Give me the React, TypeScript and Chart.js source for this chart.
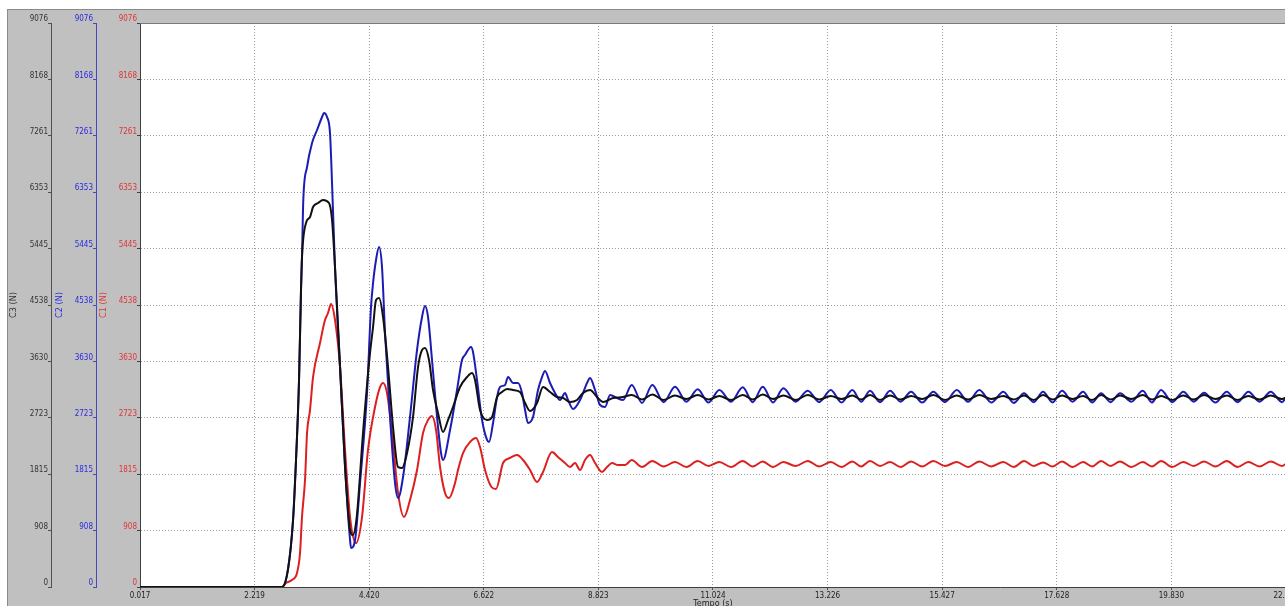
import React, { useEffect, useRef } from "react";
import { Chart, registerables } from "chart.js";

Chart.register(...registerables);

// ---- tick labels ----
const xTickLabels = ["0.017", "2.219", "4.420", "6.622", "8.823", "11.024", "13.226", "15.427", "17.628", "19.830", "22.032"];
const yTickLabels = ["0", "908", "1815", "2723", "3630", "4538", "5445", "6353", "7261", "8168", "9076"];
const xTickValues = xTickLabels.map(Number);
const yTickValues = yTickLabels.map(Number);

// ---- C3 (black) transient ----
const c3Time = [0.017, 2.745, 2.861, 2.957, 3.014, 3.072, 3.110, 3.129, 3.206, 3.283, 3.341, 3.437, 3.533, 3.648, 3.706, 3.763, 3.860, 3.956, 4.052, 4.103, 4.180, 4.301, 4.436, 4.494, 4.551, 4.609, 4.686, 4.782, 4.878, 4.974, 5.051, 5.147, 5.262, 5.358, 5.435, 5.492, 5.569, 5.646, 5.742, 5.838, 5.934, 6.030, 6.165, 6.299, 6.395, 6.453, 6.549, 6.684, 6.780, 6.876, 6.972, 7.068, 7.183, 7.317, 7.414, 7.510, 7.644, 7.759, 7.894, 8.028, 8.144, 8.278, 8.412, 8.528, 8.662, 8.797, 8.912, 9.104, 9.296];
const c3Force = [0, 0, 290, 1078, 2044, 3331, 4779, 5310, 5857, 5954, 6115, 6179, 6228, 6179, 5906, 5149, 3540, 1931, 917, 837, 1126, 2478, 3766, 4184, 4618, 4651, 4345, 3540, 2575, 1931, 1915, 2156, 2736, 3540, 3814, 3846, 3653, 3170, 2800, 2494, 2687, 2897, 3218, 3379, 3444, 3331, 2848, 2687, 2736, 3057, 3138, 3186, 3170, 3138, 2961, 2832, 2961, 3218, 3138, 3057, 3041, 2977, 3009, 3122, 3170, 3057, 2977, 3041, 3057];

// ---- C2 (blue) transient ----
const c2Time = [0.017, 2.745, 2.861, 2.957, 3.014, 3.072, 3.110, 3.129, 3.154, 3.226, 3.322, 3.418, 3.514, 3.552, 3.610, 3.667, 3.706, 3.763, 3.860, 3.956, 4.052, 4.071, 4.148, 4.244, 4.378, 4.455, 4.494, 4.551, 4.609, 4.666, 4.724, 4.820, 4.916, 4.974, 5.070, 5.204, 5.339, 5.435, 5.492, 5.550, 5.627, 5.723, 5.800, 5.838, 5.973, 6.107, 6.203, 6.261, 6.376, 6.414, 6.491, 6.588, 6.684, 6.722, 6.799, 6.876, 6.933, 7.030, 7.087, 7.183, 7.279, 7.356, 7.414, 7.471, 7.567, 7.663, 7.740, 7.798, 7.894, 7.990, 8.086, 8.182, 8.240, 8.336, 8.470, 8.605, 8.662, 8.759, 8.854, 8.951, 9.047, 9.181, 9.296];
const c2Force = [0, 0, 290, 1078, 2044, 3331, 4779, 5310, 6228, 6759, 7145, 7354, 7563, 7628, 7563, 7306, 6501, 5149, 3540, 1931, 756, 628, 756, 1674, 3122, 4506, 4892, 5262, 5471, 5149, 4087, 2736, 1674, 1432, 1770, 2736, 3814, 4345, 4522, 4345, 3653, 2736, 2156, 2044, 2526, 3170, 3653, 3733, 3862, 3782, 3331, 2687, 2366, 2333, 2639, 3057, 3218, 3251, 3379, 3283, 3283, 3122, 2848, 2639, 2736, 3170, 3379, 3476, 3283, 3122, 3009, 3122, 3009, 2864, 3009, 3283, 3363, 3170, 2929, 2897, 3090, 3041, 3009];

// ---- C1 (red) transient ----
const c1Time = [0.017, 2.745, 2.822, 2.937, 3.033, 3.091, 3.129, 3.187, 3.226, 3.283, 3.341, 3.475, 3.571, 3.629, 3.687, 3.763, 3.860, 3.956, 4.052, 4.167, 4.282, 4.397, 4.532, 4.628, 4.686, 4.762, 4.859, 4.974, 5.089, 5.204, 5.339, 5.454, 5.550, 5.627, 5.704, 5.781, 5.877, 5.953, 6.069, 6.126, 6.222, 6.357, 6.472, 6.549, 6.645, 6.769, 6.856, 6.991, 7.125, 7.260, 7.376, 7.510, 7.644, 7.759, 7.931, 8.047, 8.182, 8.278, 8.374, 8.470, 8.566, 8.662, 8.759, 8.893, 8.989, 9.085, 9.200, 9.335];
const c1Force = [0, 0, 64, 113, 225, 547, 1126, 1722, 2478, 2848, 3379, 3926, 4297, 4409, 4554, 4297, 3540, 2205, 1126, 708, 1126, 2205, 2897, 3218, 3283, 3122, 2478, 1513, 1126, 1400, 1883, 2478, 2687, 2752, 2526, 1931, 1513, 1432, 1674, 1883, 2156, 2333, 2398, 2253, 1883, 1609, 1577, 1995, 2076, 2124, 2044, 1883, 1690, 1851, 2172, 2092, 1995, 1931, 1995, 1883, 2044, 2124, 1995, 1851, 1931, 1995, 1963, 1963];

// ---- steady ripple (peaks / troughs) ----
const steadyPeakTime = [9.463, 9.859, 10.295, 10.731, 11.146, 11.596, 11.980, 12.376, 12.845, 13.286, 13.701, 14.041, 14.426, 14.829, 15.257, 15.707, 16.141, 16.602, 17.000, 17.365, 17.730, 18.134, 18.480, 18.844, 19.280, 19.632, 20.060, 20.458, 20.894, 21.309, 21.739];
const steadyTroughTime = [9.661, 10.077, 10.513, 10.939, 11.371, 11.788, 12.178, 12.611, 13.066, 13.494, 13.871, 14.234, 14.628, 15.043, 15.482, 15.924, 16.372, 16.801, 17.183, 17.548, 17.932, 18.307, 18.662, 19.062, 19.456, 19.846, 20.259, 20.676, 21.102, 21.524, 21.956];
const c2PeakForce = [3251, 3251, 3223, 3181, 3170, 3213, 3223, 3197, 3159, 3170, 3170, 3159, 3159, 3143, 3143, 3170, 3170, 3143, 3116, 3143, 3159, 3143, 3116, 3116, 3159, 3170, 3143, 3127, 3143, 3143, 3143];
const c2TroughForce = [2961, 2975, 2982, 2969, 2982, 2975, 2969, 2982, 2975, 2969, 2982, 2975, 2982, 2969, 2975, 2982, 2969, 2961, 2975, 2969, 2982, 2969, 2975, 2982, 2969, 2975, 2982, 2969, 2975, 2982, 2975];
const c3PeakForce = [3090, 3098, 3082, 3090, 3074, 3090, 3098, 3082, 3090, 3074, 3082, 3090, 3082, 3074, 3090, 3082, 3090, 3074, 3082, 3090, 3082, 3074, 3090, 3082, 3090, 3074, 3082, 3090, 3082, 3074, 3082];
const c3TroughForce = [3017, 3009, 3025, 3017, 3009, 3017, 3025, 3009, 3017, 3025, 3017, 3009, 3017, 3025, 3009, 3017, 3025, 3017, 3009, 3017, 3025, 3009, 3017, 3025, 3017, 3009, 3017, 3025, 3009, 3017, 3025];
const c1PeakForce = [2044, 2028, 2012, 2028, 2012, 2028, 2020, 2012, 2028, 2012, 2020, 2028, 2012, 2020, 2028, 2012, 2020, 2012, 2028, 2004, 2020, 2012, 2028, 2020, 2012, 2028, 2012, 2020, 2028, 2012, 2020];
const c1TroughForce = [1931, 1939, 1931, 1947, 1931, 1939, 1931, 1947, 1939, 1931, 1939, 1947, 1931, 1939, 1947, 1931, 1939, 1931, 1947, 1939, 1931, 1939, 1947, 1931, 1939, 1931, 1947, 1939, 1931, 1939, 1947];

const endTime = 22.032;
const c1EndForce = 1980;
const c2EndForce = 3050;
const c3EndForce = 3050;

function buildSeries(time: number[], force: number[], peaks: number[], troughs: number[], end: number) {
  const pts = time.map((t, i) => ({ x: t, y: force[i] }));
  steadyPeakTime.forEach((t, i) => {
    pts.push({ x: t, y: peaks[i] });
    pts.push({ x: steadyTroughTime[i], y: troughs[i] });
  });
  pts.push({ x: endTime, y: end });
  return pts;
}

const FONT = "'Liberation Sans Narrow', 'DejaVu Sans Condensed', 'Liberation Sans', Arial, sans-serif";
const GRID_COLOR = "#9c9c9c";

function yAxis(color: string, borderColor: string, title: string, weight: number, width: number, titlePad: number, showGrid: boolean) {
  return {
    type: "linear",
    position: "left",
    weight,
    min: 0,
    max: 9076,
    afterBuildTicks: (s: any) => {
      s.ticks = yTickValues.map((v) => ({ value: v }));
    },
    afterFit: (s: any) => {
      s.width = width;
    },
    ticks: {
      color,
      font: { family: FONT, size: 8 },
      padding: 0,
      labelOffset: -4,
      callback: (_v: any, i: number) => yTickLabels[i],
    },
    grid: {
      display: true,
      drawOnChartArea: showGrid,
      drawTicks: true,
      tickLength: 3,
      color: GRID_COLOR,
      tickColor: borderColor,
      tickBorderDash: [1, 0],
      lineWidth: 1,
    },
    border: { display: true, color: borderColor, width: 1, dash: [1, 2] },
    title: {
      display: true,
      text: title,
      color,
      font: { family: FONT, size: 9 },
      padding: { top: titlePad, bottom: 0 },
    },
  };
}

const framePlugin = {
  id: "frame",
  beforeDraw(chart: any) {
    const { ctx, chartArea } = chart;
    const { left, top, right, bottom } = chartArea;
    ctx.save();
    ctx.fillStyle = "#ffffff";
    ctx.fillRect(left, top, right - left, bottom - top);
    ctx.restore();
  },
  afterDraw(chart: any) {
    const { ctx, chartArea } = chart;
    const { left, top, right } = chartArea;
    ctx.save();
    ctx.strokeStyle = "#7a7a7a";
    ctx.lineWidth = 1;
    ctx.setLineDash([]);
    ctx.beginPath();
    ctx.moveTo(left, top + 0.5);
    ctx.lineTo(right, top + 0.5);
    ctx.stroke();
    ctx.restore();
  },
};

export default function App() {
  const ref = useRef<HTMLCanvasElement | null>(null);

  useEffect(() => {
    if (!ref.current) return;
    const chart = new Chart(ref.current, {
      type: "line",
      data: {
        datasets: [
          {
            label: "C3",
            data: buildSeries(c3Time, c3Force, c3PeakForce, c3TroughForce, c3EndForce),
            yAxisID: "yC3",
            borderColor: "#111111",
            borderWidth: 2,
            pointRadius: 0,
            cubicInterpolationMode: "monotone",
            order: 0,
          },
          {
            label: "C2",
            data: buildSeries(c2Time, c2Force, c2PeakForce, c2TroughForce, c2EndForce),
            yAxisID: "yC2",
            borderColor: "#1c1cb4",
            borderWidth: 2,
            pointRadius: 0,
            cubicInterpolationMode: "monotone",
            order: 1,
          },
          {
            label: "C1",
            data: buildSeries(c1Time, c1Force, c1PeakForce, c1TroughForce, c1EndForce),
            yAxisID: "yC1",
            borderColor: "#dd1f1f",
            borderWidth: 2,
            pointRadius: 0,
            cubicInterpolationMode: "monotone",
            order: 2,
          },
        ],
      } as any,
      options: {
        animation: false,
        responsive: false,
        maintainAspectRatio: false,
        parsing: false,
        normalized: true,
        layout: { padding: { top: 14, right: 51, bottom: 0, left: 0 } },
        plugins: {
          legend: { display: false },
          tooltip: { enabled: false },
        },
        scales: {
          x: {
            type: "linear",
            position: "bottom",
            min: 0.017,
            max: 22.032,
            afterBuildTicks: (s: any) => {
              s.ticks = xTickValues.map((v) => ({ value: v }));
            },
            afterFit: (s: any) => {
              s.height = 42;
            },
            ticks: {
              color: "#222222",
              font: { family: FONT, size: 8 },
              padding: 1,
              maxRotation: 0,
              autoSkip: false,
              callback: (_v: any, i: number) => xTickLabels[i],
            },
            grid: {
              display: true,
              drawOnChartArea: true,
              drawTicks: true,
              tickLength: 3,
              color: GRID_COLOR,
              tickColor: "#505050",
              tickBorderDash: [1, 0],
            },
            border: { display: true, color: "#404040", width: 1, dash: [1, 2] },
            title: {
              display: true,
              text: "Tempo (s)",
              color: "#222222",
              font: { family: FONT, size: 9 },
              padding: { top: 0, bottom: 20 },
            },
          },
          yC1: yAxis("#e03434", "#404040", "C1 (N)", 0, 44, 2.6, true),
          yC2: yAxis("#2a2ae0", "#4848b8", "C2 (N)", 1, 45, 3.6, false),
          yC3: yAxis("#333333", "#505050", "C3 (N)", 2, 44, 1.6, false),
        } as any,
      },
      plugins: [framePlugin],
    });
    return () => chart.destroy();
  }, []);

  return (
    <div
      style={{
        position: "fixed",
        left: 7,
        top: 9,
        width: 1278,
        height: 597,
        overflow: "hidden",
        background: "#c0c0c0",
        boxShadow: "inset 1px 1px 0 #8a8a8a",
      }}
    >
      <canvas
        ref={ref}
        width={1330}
        height={620}
        style={{ position: "absolute", left: 0, top: 0, width: 1330, height: 620 }}
      />
    </div>
  );
}
